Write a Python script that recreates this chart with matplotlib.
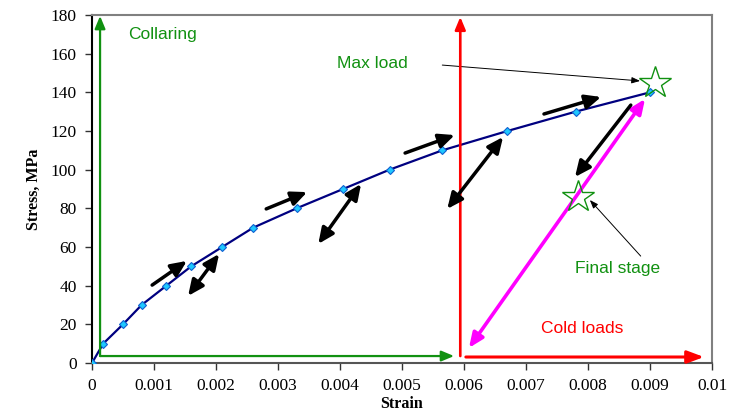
import matplotlib
matplotlib.use("Agg")
import matplotlib.pyplot as plt

# Data -----------------------------------------------------------------------

strain = [0, 0.00018, 0.0005, 0.0008, 0.0012, 0.0016, 0.0021, 0.0026,
          0.0033, 0.00405, 0.0048, 0.00565, 0.0067, 0.0078, 0.009]
stress = [0, 10, 20, 30, 40, 50, 60, 70, 80, 90, 100, 110, 120, 130, 140]

x_ticks = [0, 0.001, 0.002, 0.003, 0.004, 0.005, 0.006, 0.007, 0.008, 0.009, 0.01]
x_tick_labels = ["0", "0.001", "0.002", "0.003", "0.004", "0.005",
                 "0.006", "0.007", "0.008", "0.009", "0.01"]
y_ticks = [0, 20, 40, 60, 80, 100, 120, 140, 160, 180]

# loading-direction arrows: (start, end, double-headed)
black_arrows = [
    ((0.00097, 40.3), (0.00153, 52.8), False),
    ((0.00155, 34.7), (0.00205, 56.4), True),
    ((0.00281, 79.7), (0.00347, 88.4), False),
    ((0.00365, 61.6), (0.00434, 92.6), True),
    ((0.00505, 108.6), (0.00585, 117.9), False),
    ((0.00573, 79.7), (0.00663, 116.9), True),
    ((0.00729, 128.8), (0.00821, 137.6), False),
    ((0.00869, 133.4), (0.00779, 96.2), False),
]

collar_corner = (0.00013, 3.6)
collar_top = (0.00013, 179.5)
collar_right = (0.00584, 3.6)

cold_vert = ((0.00594, 3.6), (0.00594, 179.0))
cold_horiz = ((0.00603, 3.1), (0.00987, 3.1))

final_ramp = ((0.00608, 7.8), (0.00892, 136.6))

star_max = (0.00908, 144.8)
star_final = (0.00784, 85.9)

# Style ----------------------------------------------------------------------

_GREEN = "#119111"
_RED = "#ff0000"
_MAGENTA = "#ff00ff"
_NAVY = "#000080"
_GREY = "#808080"

plt.rcParams.update({
    "font.family": "Liberation Serif",
    "font.size": 12.5,
})

fig = plt.figure(figsize=(7.44, 4.12), dpi=100)
ax = fig.add_axes([92 / 744, 49 / 412, 620 / 744, 348 / 412])

ax.set_xlim(0, 0.01)
ax.set_ylim(0, 180)
ax.set_xticks(x_ticks)
ax.set_xticklabels(x_tick_labels)
ax.set_yticks(y_ticks)
ax.tick_params(direction="out", length=5, width=1, color="#333333", pad=6)

for side in ("top", "right"):
    ax.spines[side].set_color(_GREY)
    ax.spines[side].set_linewidth(1.5)
ax.spines["left"].set_color("black")
ax.spines["bottom"].set_color("#555555")
for side in ("left", "bottom"):
    ax.spines[side].set_linewidth(1.5)

ax.set_xlabel("Strain", fontweight="bold", fontsize=11.5, labelpad=1)
ax.set_ylabel("Stress, MPa", fontweight="bold", fontsize=11.5, labelpad=6)

# main curve
ax.plot(strain, stress, color=_NAVY, linewidth=1.6, marker="D",
        markersize=4, markerfacecolor="#1ec8ff", markeredgecolor="#1060d0",
        markeredgewidth=0.8, zorder=3)


def arrow(p0, p1, color, lw, style="-|>", hl=0.7, hw=0.35):
    ax.annotate(
        "", xy=p1, xytext=p0,
        arrowprops=dict(arrowstyle=f"{style},head_length={hl},head_width={hw}",
                        color=color, lw=lw, shrinkA=0, shrinkB=0),
        zorder=4,
    )


# collaring L-shape
arrow(collar_corner, collar_top, _GREEN, 1.6, hl=0.6, hw=0.25)
arrow(collar_corner, collar_right, _GREEN, 1.6, hl=0.6, hw=0.25)

# cold loads
arrow(*cold_vert, _RED, 1.9, hl=0.6, hw=0.25)
arrow(*cold_horiz, _RED, 2.2, hl=0.8, hw=0.3)

# final stage ramp
arrow(*final_ramp, _MAGENTA, 2.6, style="<|-|>", hl=0.7, hw=0.3)

for p0, p1, double in black_arrows:
    arrow(p0, p1, "black", 2.5, style="<|-|>" if double else "-|>",
          hl=0.75, hw=0.34)

# stars
for pt in (star_max, star_final):
    ax.plot(*pt, marker="*", markersize=24, markerfacecolor="none",
            markeredgecolor=_GREEN, markeredgewidth=1.0, zorder=5)

# labels
sans = "Liberation Sans"
ax.text(0.00058, 169.7, "Collaring", color=_GREEN, fontsize=12.5,
        family=sans, va="center")
ax.text(0.00395, 154.7, "Max load", color=_GREEN, fontsize=12.5,
        family=sans, va="center")
ax.text(0.00779, 49.1, "Final stage", color=_GREEN, fontsize=12.5,
        family=sans, va="center")
ax.text(0.00724, 18.1, "Cold loads", color=_RED, fontsize=12.5,
        family=sans, va="center")

ax.annotate("", xy=(0.00884, 145.9), xytext=(0.00565, 154.1),
            arrowprops=dict(arrowstyle="-|>,head_length=0.4,head_width=0.15",
                            color="black", lw=0.7, shrinkA=0, shrinkB=0))
ax.annotate("", xy=(0.00803, 84.3), xytext=(0.00885, 55.3),
            arrowprops=dict(arrowstyle="-|>,head_length=0.4,head_width=0.15",
                            color="black", lw=0.7, shrinkA=0, shrinkB=0))

fig.savefig("out.png", dpi=100)
